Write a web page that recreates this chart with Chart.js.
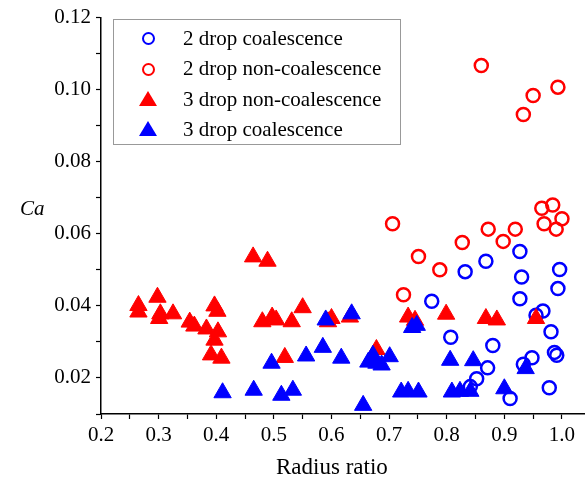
<!DOCTYPE html>
<html>
<head>
<meta charset="utf-8">
<script src="https://cdn.jsdelivr.net/npm/chart.js@4/dist/chart.umd.min.js"></script>
<style>
  body { margin: 0; background: #fff; }
  #wrap { position: relative; width: 585px; height: 479px; font-family: "Liberation Serif", "Times New Roman", serif; color: #000; }
  #grafico { position: absolute; left: 0; top: 0; }
  .txt { position: absolute; white-space: nowrap; }
  .leg-box { position: absolute; left: 113px; top: 19px; width: 288px; height: 126px; border: 1.5px solid #999; box-sizing: border-box; }
  .leg-txt { position: absolute; left: 183px; font-size: 21px; line-height: 21px; white-space: nowrap; }
  .circ { position: absolute; width: 13px; height: 13px; border: 2.5px solid; border-radius: 50%; box-sizing: border-box; }
  .tri { position: absolute; width: 0; height: 0; border-left: 9px solid transparent; border-right: 9px solid transparent; border-bottom: 15px solid; }
</style>
</head>
<body>
<div id="wrap">
  <canvas id="grafico" width="585" height="479"></canvas>

  <!-- leyenda dentro del grafico -->
  <div class="leg-box"></div>
  <span class="circ" style="left:141.5px; top:31.5px; border-color:#0000ff;"></span>
  <span class="leg-txt" style="top:27.5px;">2 drop coalescence</span>
  <span class="circ" style="left:141.5px; top:62.5px; border-color:#ff0000;"></span>
  <span class="leg-txt" style="top:57.5px;">2 drop non-coalescence</span>
  <span class="tri" style="left:139px; top:91px; border-bottom-color:#ff0000;"></span>
  <span class="leg-txt" style="top:89px;">3 drop non-coalescence</span>
  <span class="tri" style="left:139px; top:121px; border-bottom-color:#0000ff;"></span>
  <span class="leg-txt" style="top:119px;">3 drop coalescence</span>

  <!-- titulos de ejes -->
  <span class="txt" style="left:20px; top:198px; font-size:21px; line-height:21px; font-style:italic;">Ca</span>
  <span class="txt" style="left:276px; top:455px; font-size:23px; line-height:23px;">Radius ratio</span>
</div>

<script>
// 2 drop coalescence (circulos azules)
const dosGotasCoalX = [0.774, 0.807, 0.832, 0.841, 0.852, 0.868, 0.871, 0.880, 0.910, 0.927, 0.930, 0.927, 0.933, 0.948, 0.955, 0.967, 0.978, 0.981, 0.987, 0.991, 0.993, 0.996];
const dosGotasCoalY = [0.0413, 0.0313, 0.0495, 0.0176, 0.0198, 0.0524, 0.0228, 0.0290, 0.0143, 0.0551, 0.0480, 0.0420, 0.0238, 0.0256, 0.0374, 0.0386, 0.0173, 0.0328, 0.0271, 0.0263, 0.0448, 0.0501];

// 2 drop non-coalescence (circulos rojos)
const dosGotasNoCoalX = [0.860, 0.993, 0.950, 0.933, 0.706, 0.751, 0.788, 0.827, 0.725, 0.872, 0.898, 0.919, 0.965, 0.984, 1.000, 0.969, 0.990];
const dosGotasNoCoalY = [0.1067, 0.1007, 0.0984, 0.0931, 0.0628, 0.0537, 0.0500, 0.0576, 0.0431, 0.0613, 0.0579, 0.0613, 0.0671, 0.0680, 0.0642, 0.0628, 0.0613];

// 3 drop non-coalescence (triangulos rojos)
const tresGotasNoCoalX = [0.265, 0.265, 0.298, 0.301, 0.303, 0.325, 0.354, 0.362, 0.383, 0.397, 0.402, 0.403, 0.397, 0.391, 0.409, 0.464, 0.489, 0.480, 0.497, 0.504, 0.519, 0.531, 0.550, 0.594, 0.600, 0.632, 0.678, 0.733, 0.745, 0.799, 0.868, 0.887, 0.955];
const tresGotasNoCoalY = [0.0401, 0.0383, 0.0424, 0.0365, 0.0378, 0.0378, 0.0355, 0.0344, 0.0336, 0.0400, 0.0385, 0.0328, 0.0305, 0.0264, 0.0255, 0.0536, 0.0524, 0.0356, 0.0369, 0.0361, 0.0257, 0.0356, 0.0395, 0.0356, 0.0365, 0.0369, 0.0279, 0.0369, 0.0360, 0.0377, 0.0365, 0.0361, 0.0365];

// 3 drop coalescence (triangulos azules)
const tresGotasCoalX = [0.411, 0.465, 0.496, 0.513, 0.533, 0.556, 0.585, 0.590, 0.617, 0.635, 0.655, 0.664, 0.672, 0.678, 0.687, 0.701, 0.721, 0.733, 0.740, 0.748, 0.751, 0.806, 0.809, 0.823, 0.846, 0.841, 0.900, 0.937];
const tresGotasCoalY = [0.0159, 0.0166, 0.0241, 0.0152, 0.0166, 0.0261, 0.0285, 0.0361, 0.0255, 0.0378, 0.0124, 0.0244, 0.0263, 0.0241, 0.0236, 0.0259, 0.0161, 0.0163, 0.0340, 0.0346, 0.0161, 0.0249, 0.0161, 0.0163, 0.0248, 0.0163, 0.0170, 0.0226];

// armo los pares {x, y} que pide chart.js
function puntos(xs, ys) {
  return xs.map((x, i) => ({ x: x, y: ys[i] }));
}

const fuente = "'Liberation Serif', 'Times New Roman', serif";

const chart = new Chart(document.getElementById("grafico"), {
  type: "scatter",
  data: {
    datasets: [
      {
        label: "2 drop coalescence",
        data: puntos(dosGotasCoalX, dosGotasCoalY),
        pointStyle: "circle",
        pointRadius: 6.5,
        borderWidth: 2.5,
        borderColor: "#0000ff",
        backgroundColor: "rgba(0,0,0,0)",
        order: 3,
      },
      {
        label: "2 drop non-coalescence",
        data: puntos(dosGotasNoCoalX, dosGotasNoCoalY),
        pointStyle: "circle",
        pointRadius: 6.5,
        borderWidth: 2.5,
        borderColor: "#ff0000",
        backgroundColor: "rgba(0,0,0,0)",
        order: 2,
      },
      {
        label: "3 drop non-coalescence",
        data: puntos(tresGotasNoCoalX, tresGotasNoCoalY),
        pointStyle: "triangle",
        pointRadius: 10,
        borderWidth: 1,
        borderColor: "#ff0000",
        backgroundColor: "#ff0000",
        order: 1,
      },
      {
        label: "3 drop coalescence",
        data: puntos(tresGotasCoalX, tresGotasCoalY),
        pointStyle: "triangle",
        pointRadius: 10,
        borderWidth: 1,
        borderColor: "#0000ff",
        backgroundColor: "#0000ff",
        order: 0,
      },
    ],
  },
  options: {
    responsive: false,
    animation: false,
    devicePixelRatio: 1,
    // sin autoPadding, si no chart.js deja lugar para el radio de los puntos a la derecha
    layout: { autoPadding: false, padding: { top: 16, right: 0, bottom: 0, left: 0 } },
    plugins: {
      legend: { display: false }, // la leyenda va en html
      tooltip: { enabled: false },
    },
    scales: {
      x: {
        type: "linear",
        min: 0.2,
        max: 1.04,
        // alto fijo y sin relleno a los costados, asi el eje llega al borde
        afterFit: (scale) => {
          scale.height = 65;
          scale.paddingLeft = 0;
          scale.paddingRight = 0;
        },
        border: { display: true, color: "#000", width: 1.5 },
        grid: { drawOnChartArea: false, drawTicks: true, tickLength: 5, tickColor: "#000", tickWidth: 1.2 },
        ticks: {
          stepSize: 0.05,
          includeBounds: false,
          autoSkip: false,
          maxRotation: 0,
          padding: 4,
          color: "#000",
          font: { family: fuente, size: 21 },
          // solo etiqueto los ticks mayores (cada 0.1)
          callback: (v) => (Math.round(v * 100) % 10 === 0 ? Number(v).toFixed(1) : ""),
        },
      },
      y: {
        type: "linear",
        min: 0.01,
        max: 0.12,
        afterFit: (scale) => { scale.width = 101; },
        border: { display: true, color: "#000", width: 1.5 },
        grid: { drawOnChartArea: false, drawTicks: true, tickLength: 5, tickColor: "#000", tickWidth: 1.2 },
        ticks: {
          stepSize: 0.01,
          includeBounds: false,
          autoSkip: false,
          padding: 5,
          color: "#000",
          font: { family: fuente, size: 21 },
          callback: (v) => (Math.round(v * 100) % 2 === 0 ? Number(v).toFixed(2) : ""),
        },
      },
    },
  },
});
</script>
</body>
</html>
